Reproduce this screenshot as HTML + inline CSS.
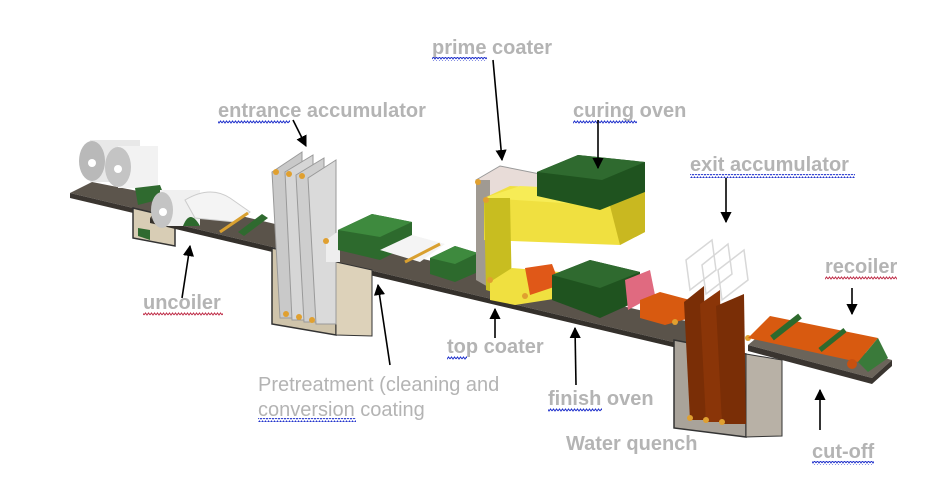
<!DOCTYPE html>
<html><head><meta charset="utf-8"><style>
html,body{margin:0;padding:0;background:#fff;width:930px;height:502px;overflow:hidden}
svg{display:block}
.l{font-family:"Liberation Sans",Arial,sans-serif;font-weight:bold;font-size:20px;fill:#b4b4b4}
.n{font-family:"Liberation Sans",Arial,sans-serif;font-size:20px;fill:#b4b4b4}
</style></head><body>
<svg width="930" height="502" viewBox="0 0 930 502" xmlns="http://www.w3.org/2000/svg">
<defs>
<marker id="a" viewBox="0 0 10 10" refX="9" refY="5" markerWidth="7" markerHeight="7" orient="auto"><path d="M0,0L10,5L0,10z" fill="#000"/></marker>
<pattern id="wb" width="6" height="4" patternUnits="userSpaceOnUse"><path d="M0,3L1.5,1L3,3L4.5,1L6,3" stroke="#2233cc" stroke-width="1" fill="none"/></pattern>
<pattern id="wr" width="6" height="4" patternUnits="userSpaceOnUse"><path d="M0,3L1.5,1L3,3L4.5,1L6,3" stroke="#c0304a" stroke-width="1" fill="none"/></pattern>
</defs>

<!-- left stand -->
<polygon points="70,193 92,182 168,197 150,212" fill="#5c554c"/>
<polygon points="70,193 150,212 150,217 70,198" fill="#3a3530"/>
<!-- uncoiler pit -->
<polygon points="133,208 175,218 175,246 133,238" fill="#d8cdb5" stroke="#333" stroke-width="1.5"/>
<!-- main band -->
<polygon points="165,198 690,322 690,346 150,218" fill="#5a534a"/>
<polygon points="150,218 690,346 690,351 150,223" fill="#34302b"/>
<!-- entrance accumulator pit -->
<polygon points="272,248 336,262 336,335 272,324" fill="#cfc4ab" stroke="#333" stroke-width="1.5"/>
<polygon points="336,262 372,270 372,336 336,335" fill="#ddd2ba" stroke="#333" stroke-width="1"/>
<!-- water quench pit -->
<polygon points="674,340 746,354 746,437 674,428" fill="#a9a39a" stroke="#333" stroke-width="1.5"/>
<polygon points="746,354 782,360 782,436 746,437" fill="#b8b1a6" stroke="#333" stroke-width="1"/>
<!-- right platform -->
<polygon points="748,345 768,328 892,360 872,378" fill="#6b645a"/>
<polygon points="748,345 872,378 872,384 748,351" fill="#3a3530"/>
<polygon points="872,378 892,360 892,366 872,384" fill="#3a3530"/>

<!-- coils -->
<rect x="90" y="140" width="50" height="42" fill="#e8e8e8"/>
<ellipse cx="92" cy="161" rx="13" ry="20" fill="#b9b9b9"/><circle cx="92" cy="163" r="4" fill="#fff"/>
<rect x="118" y="146" width="40" height="42" fill="#f2f2f2"/>
<ellipse cx="118" cy="167" rx="13" ry="20" fill="#c4c4c4"/><circle cx="118" cy="169" r="4" fill="#fff"/>
<polygon points="135,188 160,185 165,198 138,205" fill="#2f6a2f"/>
<rect x="160" y="190" width="40" height="36" fill="#f0f0f0"/>
<ellipse cx="162" cy="210" rx="11" ry="18" fill="#c4c4c4"/><circle cx="163" cy="212" r="4" fill="#fff"/>
<path d="M185,200 Q210,185 230,198 L250,212 L235,222 L195,218z" fill="#f4f4f4" stroke="#ccc"/>
<path d="M183,226 Q190,208 200,226z" fill="#2d6a2d"/>
<polygon points="138,228 150,230 150,240 138,236" fill="#2f6a2f"/>
<line x1="220" y1="232" x2="248" y2="213" stroke="#d9a030" stroke-width="3"/>
<polygon points="238,232 262,214 268,218 244,236" fill="#2f6a2f"/>

<!-- entrance accumulator panels -->
<polygon points="272,172 302,152 302,318 280,318" fill="#c9c9c9" stroke="#999"/>
<polygon points="285,172 313,155 313,320 292,320" fill="#d6d6d6" stroke="#999"/>
<polygon points="296,175 324,158 324,322 304,322" fill="#cecece" stroke="#999"/>
<polygon points="308,178 336,160 336,324 316,324" fill="#dadada" stroke="#999"/>
<polygon points="326,240 340,230 340,262 326,262" fill="#eee"/>
<g fill="#e0a030"><circle cx="276" cy="172" r="3"/><circle cx="289" cy="174" r="3"/><circle cx="302" cy="176" r="3"/><circle cx="286" cy="314" r="3"/><circle cx="299" cy="317" r="3"/><circle cx="312" cy="320" r="3"/><circle cx="326" cy="241" r="3"/></g>

<!-- pretreatment green boxes -->
<polygon points="338,230 372,214 412,222 412,244 380,260 338,250" fill="#2d6a2d"/>
<polygon points="338,230 372,214 412,222 380,237" fill="#3e8a3e"/>
<polygon points="380,250 412,235 445,244 420,262" fill="#f4f4f4"/>
<line x1="405" y1="262" x2="440" y2="244" stroke="#d9a030" stroke-width="3"/>
<polygon points="430,258 455,246 478,253 478,272 455,282 430,274" fill="#2d6a2d"/>
<polygon points="430,258 455,246 478,253 455,264" fill="#3e8a3e"/>

<!-- prime coater / curing oven -->
<polygon points="476,180 500,166 540,174 540,190 505,200 480,195" fill="#e8dcd8" stroke="#999"/>
<polygon points="476,180 490,180 490,288 476,280" fill="#a09a92"/>
<polygon points="484,198 510,186 645,192 645,232 620,245 484,240" fill="#f0e040"/>
<polygon points="484,198 520,186 645,192 610,206" fill="#f7ec56"/>
<polygon points="484,198 510,198 512,298 486,290" fill="#c8bd20"/>
<polygon points="610,206 645,192 645,232 620,245" fill="#c9b820"/>
<polygon points="537,172 578,155 645,162 645,192 600,210 537,196" fill="#1f531f"/>
<polygon points="537,172 578,155 645,162 602,180" fill="#2f6a2f"/>
<!-- lower yellow -->
<polygon points="490,282 512,268 560,272 560,298 515,305 490,300" fill="#f0e040"/>
<polygon points="525,268 552,264 560,285 530,295" fill="#e05818"/>
<polygon points="552,275 590,260 640,272 640,300 600,318 552,300" fill="#1f531f"/>
<polygon points="552,275 590,260 640,272 600,288" fill="#2f6a2f"/>
<polygon points="625,280 650,270 655,295 628,310" fill="#e06a80"/>
<g fill="#e0a030"><circle cx="478" cy="182" r="3"/><circle cx="486" cy="200" r="3"/><circle cx="490" cy="280" r="3"/><circle cx="525" cy="296" r="3"/></g>

<!-- orange strip to exit accumulator -->
<polygon points="640,300 660,292 690,300 690,318 665,325 640,318" fill="#d85a10"/>
<!-- exit accumulator transparent -->
<g fill="none" stroke="#d8d8d8" stroke-width="1.5"><polygon points="686,260 712,240 716,270 690,290"/><polygon points="702,265 728,244 732,274 706,294"/><polygon points="718,270 744,250 748,280 722,300"/></g>
<polygon points="684,302 704,286 706,420 690,420" fill="#7a2e06"/>
<polygon points="700,304 720,290 722,422 706,422" fill="#8a3508"/>
<polygon points="716,306 744,294 746,424 722,424" fill="#7a2e06"/>
<g fill="#e0a030"><circle cx="690" cy="418" r="3"/><circle cx="706" cy="420" r="3"/><circle cx="722" cy="422" r="3"/><circle cx="675" cy="322" r="3"/><circle cx="748" cy="338" r="3"/></g>
<!-- recoiler orange -->
<polygon points="748,338 770,316 878,338 858,362" fill="#d85a10"/>
<polygon points="858,362 878,338 888,358 868,372" fill="#3a7a3a"/>
<line x1="772" y1="338" x2="800" y2="316" stroke="#2d6a2d" stroke-width="6"/>
<line x1="820" y1="350" x2="845" y2="330" stroke="#2d6a2d" stroke-width="5"/>
<circle cx="852" cy="364" r="5" fill="#c85010"/>

<!-- labels -->
<text class="l" x="432" y="54">prime coater</text><rect x="432" y="57" width="55" height="4" fill="url(#wb)"/>
<text class="l" x="573" y="117">curing oven</text><rect x="573" y="120" width="64" height="4" fill="url(#wb)"/>
<text class="l" x="218" y="117">entrance accumulator</text><rect x="218" y="120" width="72" height="4" fill="url(#wb)"/>
<text class="l" x="690" y="171">exit  accumulator</text><rect x="690" y="174" width="165" height="4" fill="url(#wb)"/>
<text class="l" x="825" y="273">recoiler</text><rect x="825" y="276" width="72" height="4" fill="url(#wr)"/>
<text class="l" x="143" y="309">uncoiler</text><rect x="143" y="312" width="80" height="4" fill="url(#wr)"/>
<text class="l" x="447" y="353">top coater</text><rect x="447" y="356" width="20" height="4" fill="url(#wb)"/>
<text class="n" x="258" y="391">Pretreatment (cleaning and</text>
<text class="n" x="258" y="416">conversion coating</text><rect x="258" y="418" width="98" height="4" fill="url(#wb)"/>
<text class="l" x="548" y="405">finish oven</text><rect x="548" y="408" width="54" height="4" fill="url(#wb)"/>
<text class="l" x="566" y="450">Water quench</text>
<text class="l" x="812" y="458">cut-off</text><rect x="812" y="461" width="62" height="4" fill="url(#wb)"/>

<!-- arrows -->
<g stroke="#000" stroke-width="1.6" marker-end="url(#a)">
<line x1="493" y1="60" x2="502" y2="160"/>
<line x1="598" y1="120" x2="598" y2="168"/>
<line x1="293" y1="120" x2="306" y2="146"/>
<line x1="726" y1="178" x2="726" y2="222"/>
<line x1="852" y1="288" x2="852" y2="314"/>
<line x1="182" y1="298" x2="190" y2="246"/>
<line x1="495" y1="338" x2="495" y2="309"/>
<line x1="390" y1="365" x2="378" y2="285"/>
<line x1="576" y1="385" x2="575" y2="328"/>
<line x1="820" y1="430" x2="820" y2="390"/>
</g>
</svg>
</body></html>
